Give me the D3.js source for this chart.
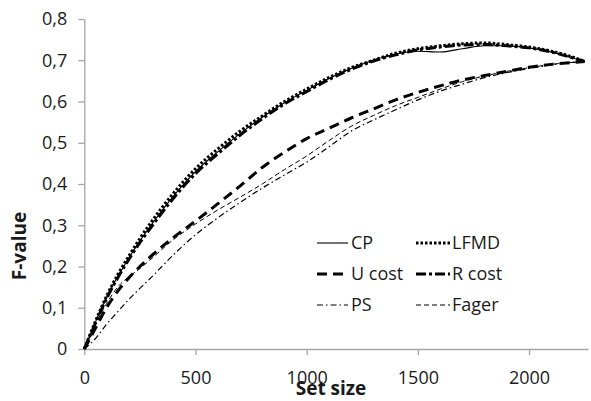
<!DOCTYPE html>
<html>
<head>
<meta charset="utf-8">
<script src="https://cdn.jsdelivr.net/npm/d3@7"></script>
<style>
  body { margin: 0; background: #fff; }
  svg text { font-family: "Open Sans", "Noto Sans", sans-serif; fill: #1a1a1a; }
</style>
</head>
<body>
<svg id="chart" width="591" height="401"></svg>
<script>
// set sizes sampled along the x axis
var setSizes = [0, 50, 100, 150, 200, 250, 300, 400, 500, 600, 700, 800, 900, 1000,
	1100, 1200, 1300, 1400, 1500, 1600, 1700, 1800, 1900, 2000, 2100, 2200, 2250];

// F-values, one list per method
var cpValues    = [0, 0.065, 0.125, 0.175, 0.22, 0.262, 0.3, 0.37, 0.43, 0.478, 0.522, 0.562, 0.597, 0.627,
	0.656, 0.68, 0.70, 0.715, 0.722, 0.72, 0.728, 0.735, 0.735, 0.73, 0.72, 0.705, 0.697];
var lfmdValues  = [0, 0.067, 0.128, 0.18, 0.225, 0.268, 0.307, 0.377, 0.437, 0.485, 0.528, 0.565, 0.6, 0.63,
	0.658, 0.682, 0.70, 0.717, 0.728, 0.735, 0.74, 0.742, 0.738, 0.732, 0.722, 0.707, 0.697];
var uCostValues = [0, 0.05, 0.10, 0.14, 0.172, 0.2, 0.225, 0.27, 0.31, 0.352, 0.395, 0.44, 0.477, 0.51,
	0.535, 0.56, 0.582, 0.604, 0.622, 0.638, 0.652, 0.663, 0.673, 0.683, 0.69, 0.695, 0.697];
var rCostValues = [0, 0.062, 0.122, 0.172, 0.217, 0.258, 0.295, 0.365, 0.425, 0.473, 0.518, 0.558, 0.594, 0.624,
	0.653, 0.678, 0.698, 0.713, 0.725, 0.732, 0.737, 0.738, 0.735, 0.73, 0.72, 0.705, 0.697];
var psValues    = [0, 0.025, 0.06, 0.09, 0.12, 0.147, 0.173, 0.228, 0.277, 0.318, 0.355, 0.39, 0.422, 0.453,
	0.49, 0.528, 0.555, 0.58, 0.604, 0.625, 0.642, 0.658, 0.67, 0.68, 0.689, 0.695, 0.697];
var fagerValues = [0, 0.06, 0.11, 0.15, 0.175, 0.195, 0.218, 0.265, 0.303, 0.337, 0.368, 0.4, 0.435, 0.468,
	0.505, 0.54, 0.566, 0.59, 0.61, 0.63, 0.648, 0.662, 0.673, 0.682, 0.69, 0.695, 0.697];

var xTicks = [0, 500, 1000, 1500, 2000];
var yTicks = [0, 0.1, 0.2, 0.3, 0.4, 0.5, 0.6, 0.7, 0.8];

var series = [
	{name: "CP",     values: cpValues,    width: 1.1, dash: null},
	{name: "LFMD",   values: lfmdValues,  width: 3,   dash: "2.5,2"},
	{name: "U cost", values: uCostValues, width: 3,   dash: "10,6"},
	{name: "R cost", values: rCostValues, width: 3,   dash: "10,3,3,3"},
	{name: "PS",     values: psValues,    width: 1.2, dash: "6,3,1.5,3"},
	{name: "Fager",  values: fagerValues, width: 1,   dash: "5,3"}
];

var svg = d3.select("#chart");

var xScale = d3.scaleLinear().domain([0, 2265]).range([84.3, 588]);
var yScale = d3.scaleLinear().domain([0, 0.8]).range([349, 19]);

var commaFormat = function(d){
	//the source uses a decimal comma
	return d === 0 ? "0" : d3.format(".1f")(d).replace(".", ",");
};

// x axis
var xAxisG = svg.append("g")
.attr("transform", "translate(0," + yScale(0) + ")")
.call(d3.axisBottom(xScale).tickValues(xTicks).tickFormat(d3.format("d"))
	.tickSize(6).tickPadding(16).tickSizeOuter(0));

// y axis
var yAxisG = svg.append("g")
.attr("transform", "translate(" + xScale(0) + ",0)")
.call(d3.axisLeft(yScale).tickValues(yTicks).tickFormat(commaFormat)
	.tickSize(6).tickPadding(11).tickSizeOuter(0));

[xAxisG, yAxisG].forEach(function(g){
	g.select(".domain").attr("stroke", "#a6a6a6").attr("stroke-width", 1.3);
	g.selectAll(".tick line").attr("stroke", "#a6a6a6").attr("stroke-width", 1.3);
	g.selectAll(".tick text").style("font-size", "18px").attr("fill", "#1a1a1a");
});

// lines
var line = d3.line()
.x(function(d){ return xScale(d[0]); })
.y(function(d){ return yScale(d[1]); })
.curve(d3.curveMonotoneX);

svg.append("g").selectAll("path")
.data(series)
.enter()
.append("path")
.attr("d", function(s){
	return line(setSizes.map(function(v, i){ return [v, s.values[i]]; }));
})
.attr("fill", "none")
.attr("stroke", "#000")
.attr("stroke-width", function(s){ return s.width; })
.attr("stroke-dasharray", function(s){ return s.dash; });

// axis titles
svg.append("text")
.attr("x", 331)
.attr("y", 395)
.attr("text-anchor", "middle")
.style("font-size", "19px")
.style("font-weight", "bold")
.text("Set size");

svg.append("text")
.attr("transform", "translate(26,246) rotate(-90)")
.attr("text-anchor", "middle")
.style("font-size", "19px")
.style("font-weight", "bold")
.text("F-value");

// legend, two columns by three rows
var legend = svg.append("g")
.selectAll("g")
.data(series)
.enter()
.append("g")
.attr("transform", function(d, i){
	var col = i % 2, row = Math.floor(i / 2);
	return "translate(" + (col === 0 ? 317 : 416) + "," + (243 + row * 31) + ")";
});

legend.append("line")
.attr("x1", 0)
.attr("x2", function(d, i){ return i % 2 === 0 ? 31 : 34; })
.attr("y1", 0)
.attr("y2", 0)
.attr("stroke", "#000")
.attr("stroke-width", function(d){ return d.width; })
.attr("stroke-dasharray", function(d){ return d.dash; });

legend.append("text")
.attr("x", function(d, i){ return i % 2 === 0 ? 34 : 36; })
.attr("y", 0)
.attr("dy", "0.35em")
.style("font-size", "18px")
.text(function(d){ return d.name; });
</script>
</body>
</html>
